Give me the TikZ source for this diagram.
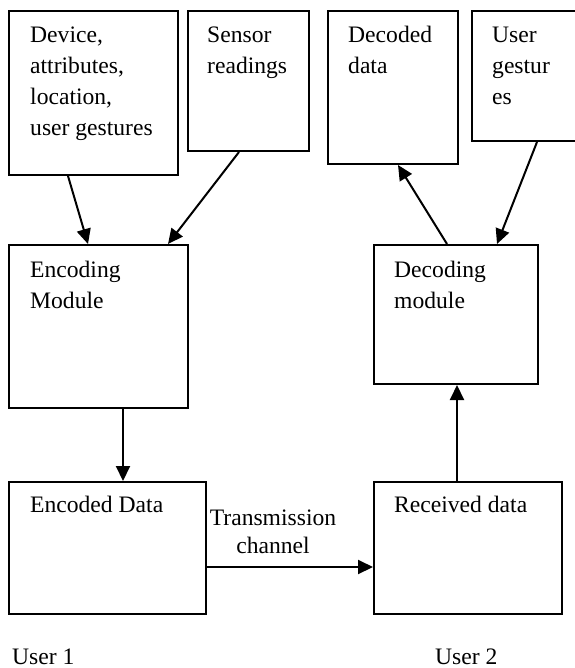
\documentclass[tikz,border=0pt]{standalone}
\usepackage{fontspec}
\setmainfont{Liberation Serif}
\usetikzlibrary{arrows.meta,calc}
\begin{document}
\begin{tikzpicture}[x=1pt,y=-1pt,
  box/.style={draw,line width=2pt,inner sep=0pt,anchor=north west},
  txt/.style={anchor=base west,inner sep=0pt,align=left,font=\fontsize{23.6}{31}\selectfont},
  conn/.style={line width=2pt,-{Triangle[length=15pt,width=14pt]}}]
\useasboundingbox (0,0) rectangle (574,668);
\node[box,minimum width=169pt,minimum height=164pt] (A) at (8,10) {};
\node[box,minimum width=121pt,minimum height=140pt] (B) at (187,10) {};
\node[box,minimum width=130pt,minimum height=153pt] (C) at (327,10) {};
\node[box,minimum width=119pt,minimum height=130pt] (D) at (471,10) {};
\node[box,minimum width=179pt,minimum height=163pt] (Enc) at (8,244) {};
\node[box,minimum width=164pt,minimum height=139pt] (Dec) at (373,244) {};
\node[box,minimum width=197pt,minimum height=132pt] (EncD) at (8,481) {};
\node[box,minimum width=188pt,minimum height=132pt] (Rec) at (373,481) {};

% anchor base = baseline of the last line
\node[txt] (tA) at ($(A.north west)+(22,126)$) {Device,\\attributes,\\location,\\user gestures};
\node[txt] (tB) at ($(B.north west)+(20,64)$) {Sensor\\readings};
\node[txt] (tC) at ($(C.north west)+(21,64)$) {Decoded\\data};
\node[txt] (tD) at ($(D.north west)+(21,95)$) {User\\gestur\\es};
\node[txt] (tEnc) at ($(Enc.north west)+(22,64)$) {Encoding\\Module};
\node[txt] (tDec) at ($(Dec.north west)+(21,64)$) {Decoding\\module};
\node[txt] (tEncD) at ($(EncD.north west)+(22,31)$) {Encoded Data};
\node[txt] (tRec) at ($(Rec.north west)+(21,31)$) {Received data};
\node[txt,anchor=base,align=center,font=\fontsize{23.6}{28}\selectfont] (tTr) at (273,553) {Transmission\\channel};
\node[txt] (u1) at (12,664) {User 1};
\node[txt] (u2) at (435,664) {User 2};

\draw[conn] ($(A.south west)+(60,0)$) -- ($(Enc.north west)+(80,0)$);
\draw[conn] ($(B.south west)+(52,0)$) -- ($(Enc.north west)+(160,0)$);
\draw[conn] ($(Dec.north west)+(74,0)$) -- ($(C.south west)+(71,0)$);
\draw[conn] ($(D.south west)+(66,0)$) -- ($(Dec.north west)+(124,0)$);
\draw[conn] ($(Enc.south west)+(115,0)$) -- ($(EncD.north west)+(115,0)$);
\draw[conn] ($(Rec.north west)+(84,0)$) -- ($(Dec.south west)+(84,0)$);
\draw[conn] ($(EncD.north east)+(0,86)$) -- ($(Rec.north west)+(0,86)$);
\end{tikzpicture}
\end{document}
